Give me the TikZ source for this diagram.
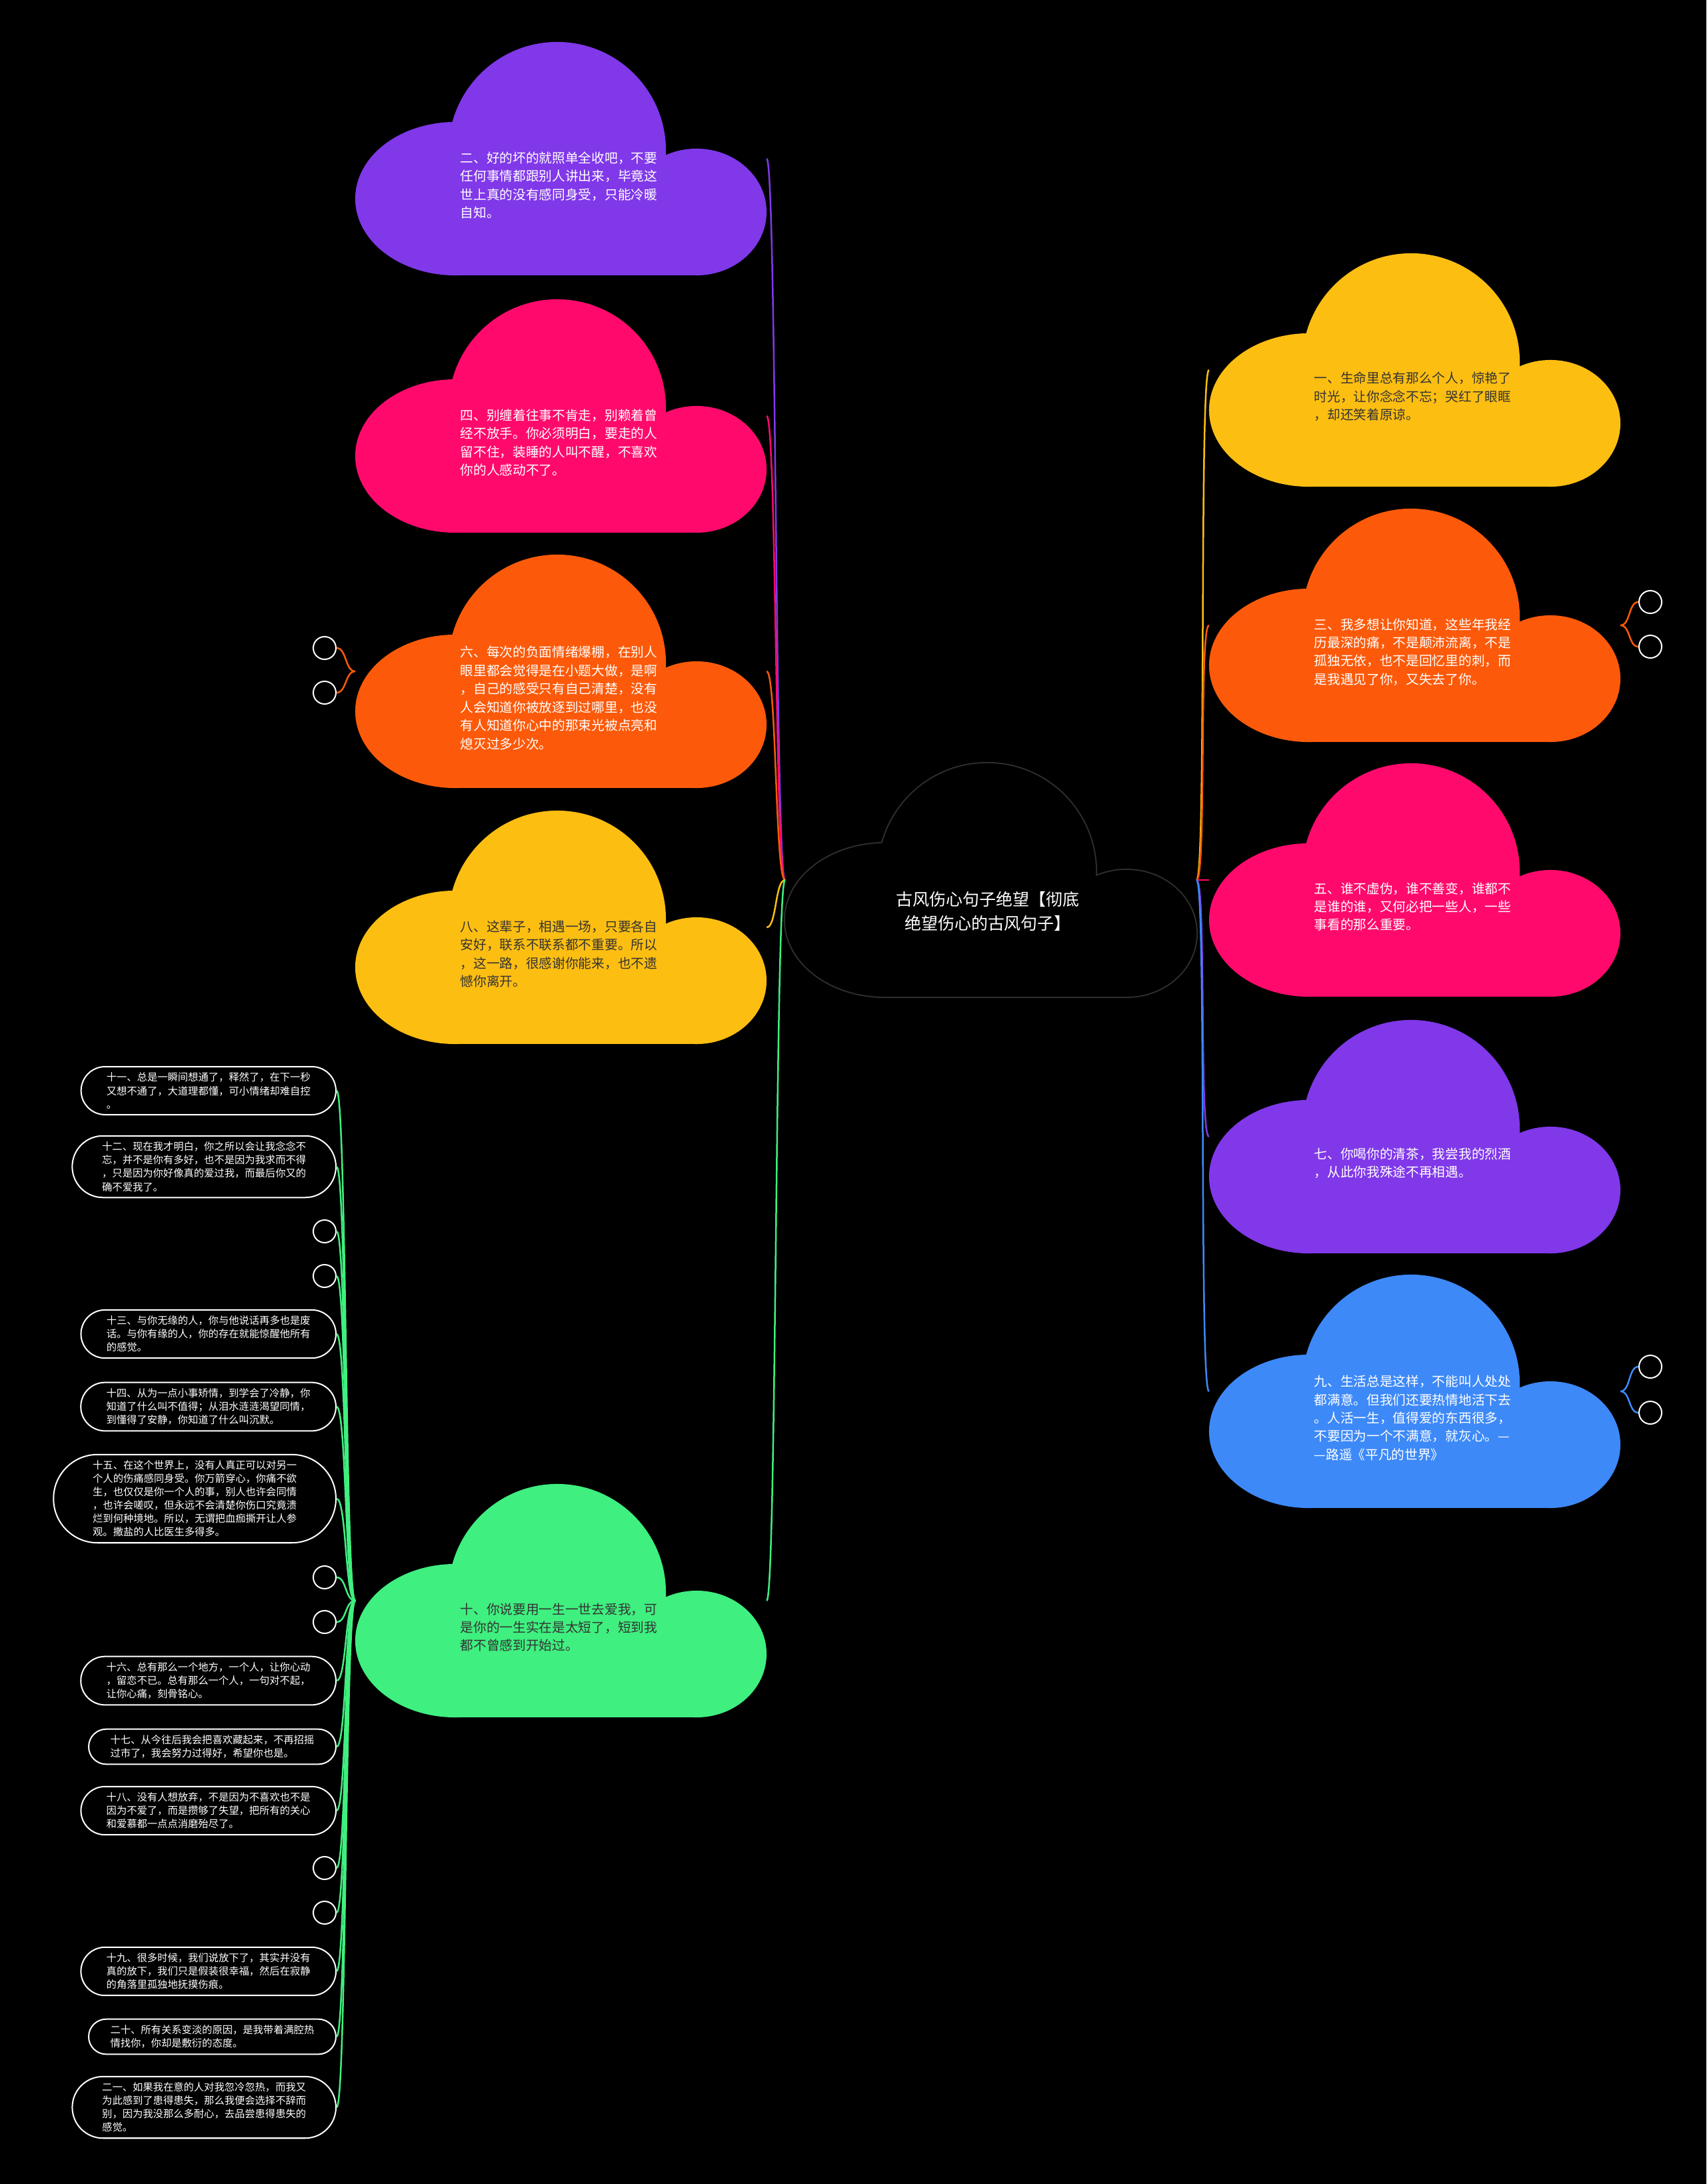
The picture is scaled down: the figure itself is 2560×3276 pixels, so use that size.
\documentclass[tikz,border=0pt]{standalone}
\usepackage{fontspec}
\setmainfont{Noto Sans CJK SC}
\usepackage{tikz}
\usetikzlibrary{shapes.misc}
\definecolor{cpurple}{HTML}{8038E9}
\definecolor{cpink}{HTML}{FF0A6C}
\definecolor{corange}{HTML}{FC5A0A}
\definecolor{cyellow}{HTML}{FDBE12}
\definecolor{cgreen}{HTML}{3FEF7F}
\definecolor{cblue}{HTML}{3D89F8}
\definecolor{cdark}{HTML}{333333}
\definecolor{crim}{HTML}{2E2E2E}
\tikzset{
  cloudbox/.style={minimum width=6.17cm,minimum height=3.5cm,inner sep=0pt,outer sep=0pt},
  cloudtxt/.style={font=\fontsize{5.6pt}{7.8pt}\selectfont,align=left,anchor=west,inner sep=0pt},
  titletxt/.style={font=\fontsize{7.1pt}{10pt}\selectfont,align=center,text=white,inner sep=0pt},
  pill/.style={rounded rectangle,draw=white,line width=0.02cm,text=white,font=\fontsize{4.35pt}{5.7pt}\selectfont,align=left,inner xsep=0.26cm,inner ysep=0.09cm,anchor=east},
  knob/.style={circle,draw=white,line width=0.02cm,minimum size=0.34cm,inner sep=0pt},
  br/.style={line width=0.025cm},
}
% cloud outline: big dome, left lobe, right lobe, base
\newcommand{\cloudfill}[3]{%
  \begin{scope}[shift={(#1,#2)}]
    \fill[#3] (303,163) circle[radius=1.63cm];
    \fill[#3] (150,235) ellipse[x radius=1.5cm,y radius=1.15cm];
    \fill[#3] (512,255) ellipse[x radius=1.05cm,y radius=0.95cm];
    \fill[#3] (150,240) rectangle (512,350);
  \end{scope}}
\begin{document}
\begin{tikzpicture}[x=0.01cm,y=-0.01cm]
  \useasboundingbox (0,0) rectangle (2560,3276);
  \fill[black] (0,0) rectangle (2560,3276);

  % centre
  \begin{scope}[shift={(1178,1145)}]
    \draw[crim,line width=0.04cm] (303,163) circle[radius=1.63cm] (150,235) ellipse[x radius=1.5cm,y radius=1.15cm]
      (512,255) ellipse[x radius=1.05cm,y radius=0.95cm] (150,240) rectangle (512,350);
  \end{scope}
  \cloudfill{1178}{1145}{black}
  \node[cloudbox] (root) at (1486.5,1320) {};
  \node[titletxt] (title) at (1482,1367) {古风伤心句子绝望【彻底\\绝望伤心的古风句子】};

  % left side
  \cloudfill{533}{63}{cpurple}
  \node[cloudbox] (c2) at (841.5,238) {};
  \node[cloudtxt,text=white] (t2) at (690,278) {二、好的坏的就照单全收吧，不要\\任何事情都跟别人讲出来，毕竟这\\世上真的没有感同身受，只能冷暖\\自知。};
  \cloudfill{533}{449}{cpink}
  \node[cloudbox] (c4) at (841.5,624) {};
  \node[cloudtxt,text=white] (t4) at (690,664) {四、别缠着往事不肯走，别赖着曾\\经不放手。你必须明白，要走的人\\留不住，装睡的人叫不醒，不喜欢\\你的人感动不了。};
  \cloudfill{533}{832}{corange}
  \node[cloudbox] (c6) at (841.5,1007) {};
  \node[cloudtxt,text=white] (t6) at (690,1047) {六、每次的负面情绪爆棚，在别人\\眼里都会觉得是在小题大做，是啊\\，自己的感受只有自己清楚，没有\\人会知道你被放逐到过哪里，也没\\有人知道你心中的那束光被点亮和\\熄灭过多少次。};
  \cloudfill{533}{1216}{cyellow}
  \node[cloudbox] (c8) at (841.5,1391) {};
  \node[cloudtxt,text=cdark] (t8) at (690,1431) {八、这辈子，相遇一场，只要各自\\安好，联系不联系都不重要。所以\\，这一路，很感谢你能来，也不遗\\憾你离开。};
  \cloudfill{533}{2226}{cgreen}
  \node[cloudbox] (c10) at (841.5,2401) {};
  \node[cloudtxt,text=cdark] (t10) at (690,2441) {十、你说要用一生一世去爱我，可\\是你的一生实在是太短了，短到我\\都不曾感到开始过。};

  % right side
  \cloudfill{1814}{380}{cyellow}
  \node[cloudbox] (c1) at (2122.5,555) {};
  \node[cloudtxt,text=cdark] (t1) at (1971,595) {一、生命里总有那么个人，惊艳了\\时光，让你念念不忘；哭红了眼眶\\，却还笑着原谅。};
  \cloudfill{1814}{763}{corange}
  \node[cloudbox] (c3) at (2122.5,938) {};
  \node[cloudtxt,text=white] (t3) at (1971,978) {三、我多想让你知道，这些年我经\\历最深的痛，不是颠沛流离，不是\\孤独无依，也不是回忆里的刺，而\\是我遇见了你，又失去了你。};
  \cloudfill{1814}{1145}{cpink}
  \node[cloudbox] (c5) at (2122.5,1320) {};
  \node[cloudtxt,text=white] (t5) at (1971,1360) {五、谁不虚伪，谁不善变，谁都不\\是谁的谁，又何必把一些人，一些\\事看的那么重要。};
  \cloudfill{1814}{1530}{cpurple}
  \node[cloudbox] (c7) at (2122.5,1705) {};
  \node[cloudtxt,text=white] (t7) at (1971,1745) {七、你喝你的清茶，我尝我的烈酒\\，从此你我殊途不再相遇。};
  \cloudfill{1814}{1912}{cblue}
  \node[cloudbox] (c9) at (2122.5,2087) {};
  \node[cloudtxt,text=white] (t9) at (1971,2127) {九、生活总是这样，不能叫人处处\\都满意。但我们还要热情地活下去\\。人活一生，值得爱的东西很多，\\不要因为一个不满意，就灰心。—\\—路遥《平凡的世界》};

  % collapsed children
  \node[knob] (k6a) at (487,972) {};
  \node[knob] (k6b) at (487,1039) {};
  \node[knob] (k3a) at (2476,903) {};
  \node[knob] (k3b) at (2476,970) {};
  \node[knob] (k9a) at (2476,2050) {};
  \node[knob] (k9b) at (2476,2119) {};

  % children of 十
  \node[pill] (p11) at (505,1636) {十一、总是一瞬间想通了，释然了，在下一秒\\又想不通了，大道理都懂，可小情绪却难自控\\。};
  \node[pill] (p12) at (505,1750) {十二、现在我才明白，你之所以会让我念念不\\忘，并不是你有多好，也不是因为我求而不得\\，只是因为你好像真的爱过我，而最后你又的\\确不爱我了。};
  \node[knob] (k1) at (487,1847) {};
  \node[knob] (k2) at (487,1914) {};
  \node[pill] (p13) at (505,2001) {十三、与你无缘的人，你与他说话再多也是废\\话。与你有缘的人，你的存在就能惊醒他所有\\的感觉。};
  \node[pill] (p14) at (505,2110) {十四、从为一点小事矫情，到学会了冷静，你\\知道了什么叫不值得；从泪水涟涟渴望同情，\\到懂得了安静，你知道了什么叫沉默。};
  \node[pill] (p15) at (505,2248) {十五、在这个世界上，没有人真正可以对另一\\个人的伤痛感同身受。你万箭穿心，你痛不欲\\生，也仅仅是你一个人的事，别人也许会同情\\，也许会嗟叹，但永远不会清楚你伤口究竟溃\\烂到何种境地。所以，无谓把血痂撕开让人参\\观。撒盐的人比医生多得多。};
  \node[knob] (k3) at (487,2366) {};
  \node[knob] (k4) at (487,2433) {};
  \node[pill] (p16) at (505,2521) {十六、总有那么一个地方，一个人，让你心动\\，留恋不已。总有那么一个人，一句对不起，\\让你心痛，刻骨铭心。};
  \node[pill] (p17) at (505,2620) {十七、从今往后我会把喜欢藏起来，不再招摇\\过市了，我会努力过得好，希望你也是。};
  \node[pill] (p18) at (505,2716) {十八、没有人想放弃，不是因为不喜欢也不是\\因为不爱了，而是攒够了失望，把所有的关心\\和爱慕都一点点消磨殆尽了。};
  \node[knob] (k5) at (487,2802) {};
  \node[knob] (k6) at (487,2869) {};
  \node[pill] (p19) at (505,2957) {十九、很多时候，我们说放下了，其实并没有\\真的放下，我们只是假装很幸福，然后在寂静\\的角落里孤独地抚摸伤痕。};
  \node[pill] (p20) at (505,3055) {二十、所有关系变淡的原因，是我带着满腔热\\情找你，你却是敷衍的态度。};
  \node[pill] (p21) at (505,3161) {二一、如果我在意的人对我忽冷忽热，而我又\\为此感到了患得患失，那么我便会选择不辞而\\别，因为我没那么多耐心，去品尝患得患失的\\感觉。};

  % branches
  \draw[br,cpurple] (root.west) .. controls +(-15,0) and +(15,0) .. (c2.east);
  \draw[br,cpink] (root.west) .. controls +(-15,0) and +(15,0) .. (c4.east);
  \draw[br,corange] (root.west) .. controls +(-15,0) and +(15,0) .. (c6.east);
  \draw[br,cyellow] (root.west) .. controls +(-15,0) and +(15,0) .. (c8.east);
  \draw[br,cgreen] (root.west) .. controls +(-15,0) and +(15,0) .. (c10.east);
  \draw[br,cyellow] (root.east) .. controls +(15,0) and +(-15,0) .. (c1.west);
  \draw[br,corange] (root.east) .. controls +(15,0) and +(-15,0) .. (c3.west);
  \draw[br,cpink] (root.east) .. controls +(15,0) and +(-15,0) .. (c5.west);
  \draw[br,cpurple] (root.east) .. controls +(15,0) and +(-15,0) .. (c7.west);
  \draw[br,cblue] (root.east) .. controls +(15,0) and +(-15,0) .. (c9.west);
  \foreach \k in {k6a,k6b} \draw[br,corange] (c6.west) .. controls +(-15,0) and +(15,0) .. (\k.east);
  \foreach \k in {k3a,k3b} \draw[br,corange] (c3.east) .. controls +(15,0) and +(-15,0) .. (\k.west);
  \foreach \k in {k9a,k9b} \draw[br,cblue] (c9.east) .. controls +(15,0) and +(-15,0) .. (\k.west);
  \foreach \k in {p11,p12,k1,k2,p13,p14,p15,k3,k4,p16,p17,p18,k5,k6,p19,p20,p21}
    \draw[br,cgreen] (c10.west) .. controls +(-15,0) and +(15,0) .. (\k.east);
\end{tikzpicture}
\end{document}
